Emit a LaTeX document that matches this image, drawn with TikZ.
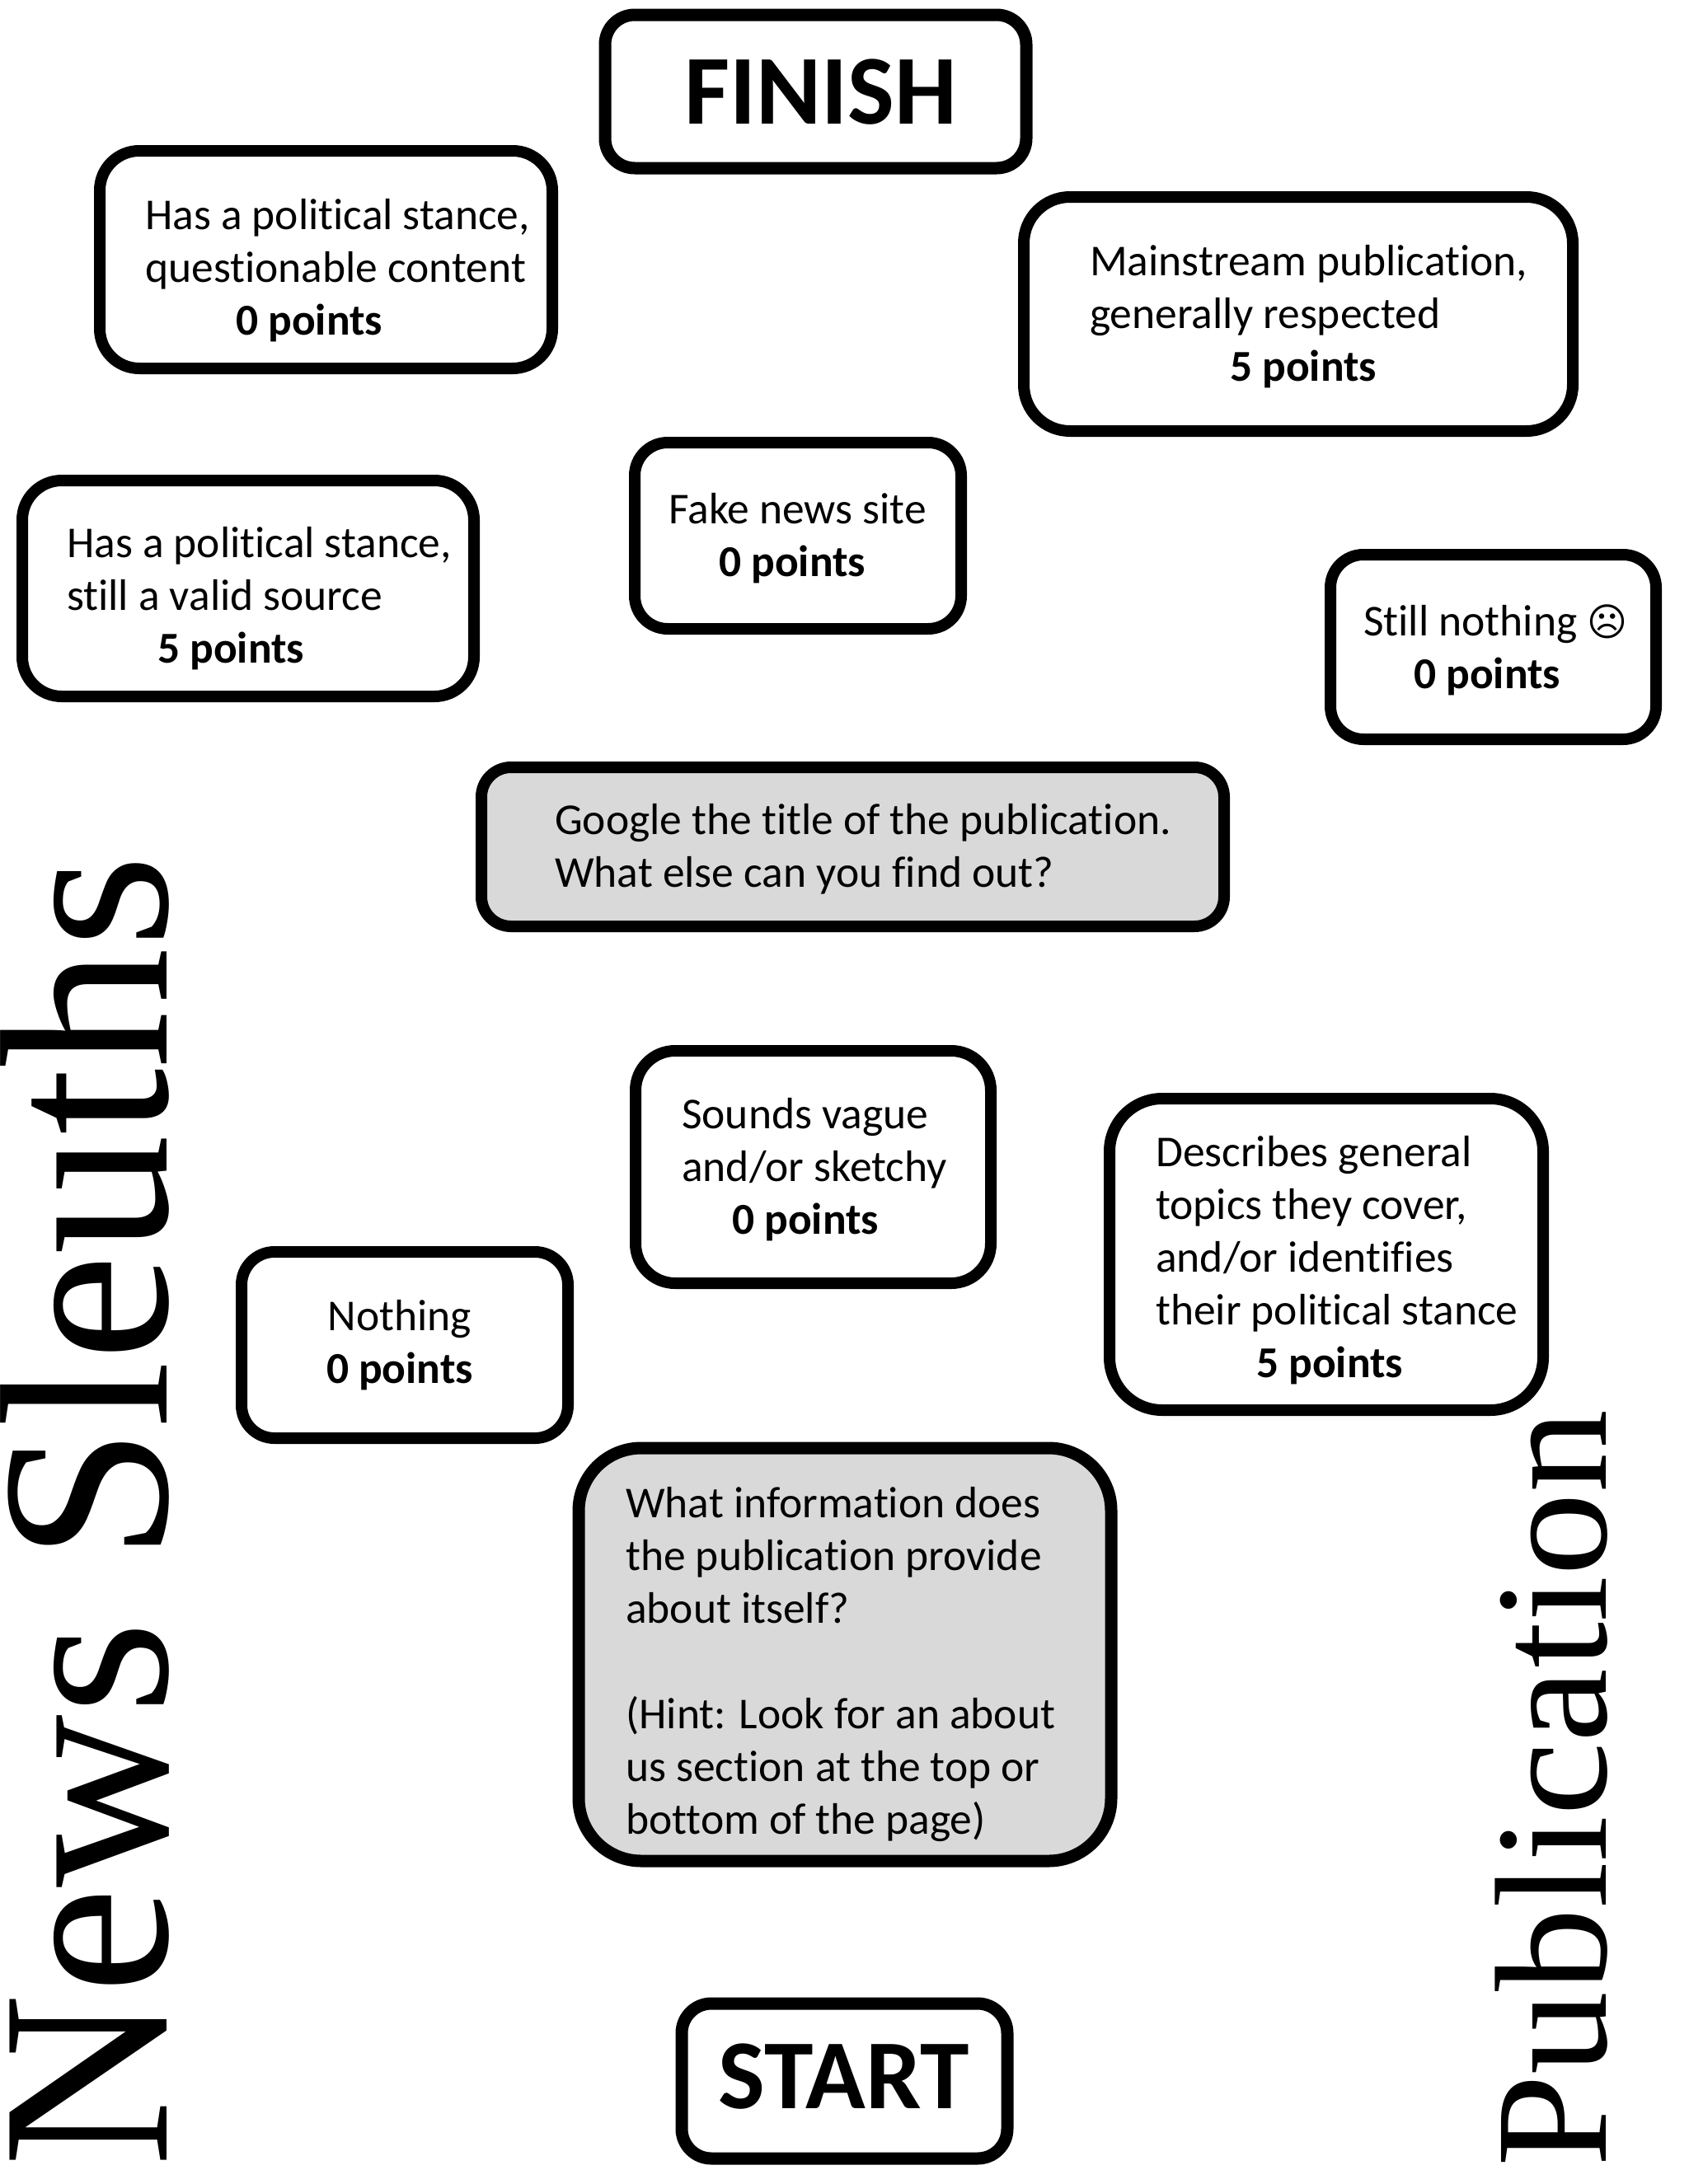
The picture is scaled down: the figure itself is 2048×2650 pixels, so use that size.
\documentclass[tikz,border=0pt]{standalone}
\usepackage{graphicx}
\usepackage{fontspec}
\setmainfont{Carlito}[Ligatures=NoCommon]
\newfontfamily\titlefont{Liberation Serif}
\newfontfamily\symfont{DejaVu Sans}
\tikzset{
  x=1pt,y=-1pt,
  boxa/.style={draw=black,line width=14pt,rounded corners=40pt,fill=white},
  txt/.style={anchor=north west,align=left,inner sep=0pt,font=\fontsize{53.5}{64}\selectfont},
  ctr/.style={anchor=center,align=center,inner sep=0pt,font=\fontsize{53.5}{64}\selectfont},
  lft/.style={anchor=west,align=left,inner sep=0pt,font=\fontsize{53.5}{64}\selectfont},
  big/.style={anchor=center,inner sep=0pt,font=\fontsize{120}{130}\selectfont\bfseries}
}
\begin{document}
\begin{tikzpicture}
\useasboundingbox (0,0) rectangle (2048,2650);
\draw[boxa,line width=15pt,rounded corners=36pt] (734,18) rectangle (1245,204);
\node[big] (finish) at (996,112) {FINISH};
\draw[boxa,rounded corners=48pt] (121,183) rectangle (670,447);
\node[txt] (a) at (176,241) {Has a political stance,\\questionable content\\\hspace*{110pt}\textbf{0 points}};
\draw[boxa,rounded corners=56pt] (1242,239) rectangle (1908,523);
\node[txt] (b) at (1322,297) {Mainstream publication,\\generally respected\\\hspace*{170pt}\textbf{5 points}};
\draw[boxa,rounded corners=48pt] (27,583) rectangle (575,845);
\node[txt] (c) at (81,639) {Has a political stance,\\still a valid source\\\hspace*{110pt}\textbf{5 points}};
\draw[boxa] (770,537) rectangle (1166,763);
\node[lft] (d) at (811,653) {Fake news site\\\hspace*{61pt}\textbf{0 points}};
\draw[boxa] (1614,673) rectangle (2009,897);
\node[lft] (e) at (1654,789) {Still nothing {\symfont\fontsize{47}{64}\selectfont ☹}\\\hspace*{61pt}\textbf{0 points}};
\draw[boxa,fill=black!15,rounded corners=36pt] (584,931) rectangle (1485,1124);
\node[txt] (f) at (673,975) {Google the title of the publication.\\What else can you find out?};
\draw[boxa,rounded corners=48pt] (771,1275) rectangle (1202,1557);
\node[txt] (g) at (827,1332) {Sounds vague\\and/or sketchy\\\hspace*{61pt}\textbf{0 points}};
\draw[boxa,rounded corners=64pt] (1346,1333) rectangle (1872,1711);
\node[txt] (h) at (1402,1378) {Describes general\\topics they cover,\\and/or identifies\\their political stance\\\hspace*{122pt}\textbf{5 points}};
\draw[boxa] (293,1519) rectangle (689,1745);
\node[ctr] (i) at (485,1632) {Nothing\\\textbf{0 points}};
\draw[boxa,fill=black!15,line width=15pt,rounded corners=76pt] (702,1757) rectangle (1348,2258);
\node[txt] (j) at (759,1804) {What information does\\the publication provide\\about itself?\\[64pt](Hint: Look for an about\\us section at the top or\\bottom of the page)};
\draw[boxa,line width=15pt,rounded corners=36pt] (827,2431) rectangle (1222,2619);
\node[big] (start) at (1024,2520) {START};
\node[rotate=90,anchor=base west,inner sep=0pt,font=\titlefont\fontsize{291}{300}\selectfont] (news) at (202,2630) {News Sleuths};
\node[rotate=90,anchor=base west,inner sep=0pt,font=\titlefont\fontsize{194}{200}\selectfont] (pub) at (1948,2630) {\scalebox{1.04}[1]{Publication}};
\end{tikzpicture}
\end{document}
